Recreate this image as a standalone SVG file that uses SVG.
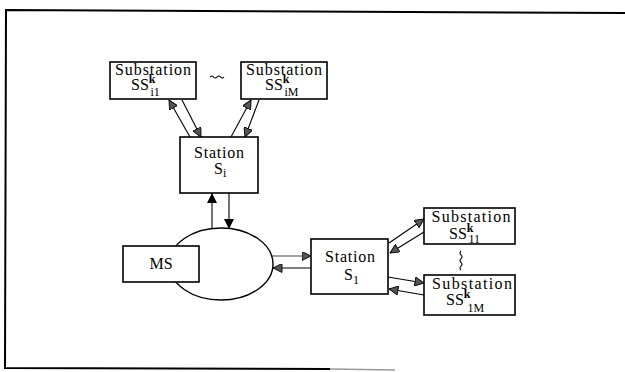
<svg xmlns="http://www.w3.org/2000/svg" width="625" height="372" viewBox="0 0 625 372">
<style>
.box{fill:#fff;stroke:#000;stroke-width:1.6}
text{font-family:'Liberation Serif','Times New Roman','DejaVu Serif',serif;fill:#000}
.t{font-size:16px}
.s{font-size:12px}
.k{font-size:12px;font-weight:bold}
.c{fill:none;stroke:#000;stroke-width:1.1}
.g{fill:none;stroke:#444;stroke-width:1.1}
</style>
<defs>
<marker id="hg" viewBox="0 0 10 10" refX="10" refY="5" markerWidth="10" markerHeight="9" orient="auto" markerUnits="userSpaceOnUse">
<path d="M0,0 L10,5 L0,10 z" fill="#555" stroke="#000" stroke-width="1"/>
</marker>
<marker id="hb" viewBox="0 0 10 10" refX="10" refY="5" markerWidth="10" markerHeight="10" orient="auto" markerUnits="userSpaceOnUse">
<path d="M0,0 L10,5 L0,10 z" fill="#000"/>
</marker>
</defs>
<rect width="625" height="372" fill="#fff"/>
<g id="frame">
<polyline points="625,13 6,10 5,368 330,369" fill="none" stroke="#000" stroke-width="2"/>
<line x1="330" y1="369" x2="395" y2="370" stroke="#999" stroke-width="1.5"/>
</g>
<g id="connectors">
<line class="c" x1="190" y1="137" x2="169" y2="100" marker-end="url(#hg)"/>
<line class="c" x1="182" y1="100" x2="201" y2="137" marker-end="url(#hg)"/>
<line class="c" x1="231" y1="137" x2="251" y2="100" marker-end="url(#hg)"/>
<line class="c" x1="259" y1="100" x2="245" y2="137" marker-end="url(#hg)"/>
<line class="c" x1="212" y1="229" x2="212" y2="193" marker-end="url(#hb)"/>
<line class="c" x1="229" y1="193" x2="229" y2="229" marker-end="url(#hb)"/>
<line class="g" x1="272" y1="256" x2="311" y2="256" marker-end="url(#hg)"/>
<line class="c" x1="311" y1="268" x2="273" y2="268" marker-end="url(#hg)"/>
<line class="c" x1="389" y1="243" x2="424" y2="219" marker-end="url(#hg)"/>
<line class="c" x1="424" y1="232" x2="390" y2="253" marker-end="url(#hg)"/>
<line class="c" x1="388" y1="277" x2="424" y2="283" marker-end="url(#hg)"/>
<line class="c" x1="424" y1="295" x2="389" y2="289" marker-end="url(#hg)"/>
<path class="c" d="M210,77 q1.75,-2 3.5,0 t3.5,0 t3.5,0 t3.5,0"/>
<path class="c" d="M461,251 q-2,1.9 0,3.8 t0,3.8 t0,3.8 t0,3.8 t0,3.8"/>
</g>
<g id="MSring">
<ellipse cx="221" cy="264" rx="52" ry="36" fill="#fff" stroke="#000" stroke-width="1.4"/>
</g>
<g id="MS">
<rect class="box" x="123" y="246" width="76" height="36"/>
<text class="t" x="161" y="269" text-anchor="middle">MS</text>
</g>
<g id="SSi1">
<rect class="box" x="110" y="62" width="86" height="37"/>
<text class="t" x="153" y="75" text-anchor="middle" textLength="76" lengthAdjust="spacing">Substation</text>
<text class="t" x="131" y="90">SS<tspan class="k" dy="-7">k</tspan><tspan class="s" dx="-5" dy="13">i1</tspan></text>
</g>
<g id="SSiM">
<rect class="box" x="241" y="62" width="86" height="37"/>
<text class="t" x="284" y="75" text-anchor="middle" textLength="76" lengthAdjust="spacing">Substation</text>
<text class="t" x="265" y="90">SS<tspan class="k" dy="-7">k</tspan><tspan class="s" dx="-5" dy="13">iM</tspan></text>
</g>
<g id="Si">
<rect class="box" x="180" y="137" width="78" height="56"/>
<text class="t" x="219" y="158" text-anchor="middle" textLength="50" lengthAdjust="spacing">Station</text>
<text class="t" x="214" y="174">S<tspan class="s" dy="3">i</tspan></text>
</g>
<g id="S1">
<rect class="box" x="311" y="239" width="77" height="55"/>
<text class="t" x="350" y="262" text-anchor="middle" textLength="50" lengthAdjust="spacing">Station</text>
<text class="t" x="344" y="280">S<tspan class="s" dy="4">1</tspan></text>
</g>
<g id="SS11">
<rect class="box" x="424" y="208" width="91" height="36"/>
<text class="t" x="471" y="222" text-anchor="middle" textLength="79" lengthAdjust="spacing">Substation</text>
<text class="t" x="449" y="239">SS<tspan class="k" dy="-7">k</tspan><tspan class="s" dx="-5" dy="11">11</tspan></text>
</g>
<g id="SS1M">
<rect class="box" x="424" y="275" width="91" height="40"/>
<text class="t" x="472" y="289" text-anchor="middle" textLength="80" lengthAdjust="spacing">Substation</text>
<text class="t" x="446" y="305">SS<tspan class="k" dy="-7">k</tspan><tspan class="s" dx="-3" dy="14">1M</tspan></text>
</g>
</svg>
